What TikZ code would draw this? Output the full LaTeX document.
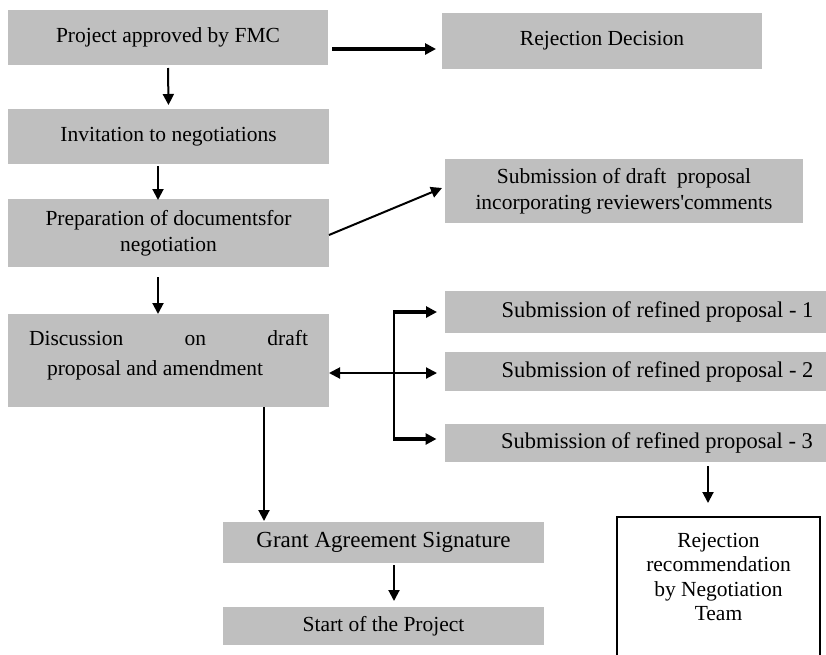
\documentclass[tikz,border=0pt]{standalone}
\usepackage{fontspec}
\setmainfont{Liberation Serif}
\usetikzlibrary{arrows.meta,calc}
\definecolor{boxgray}{RGB}{191,191,191}

\begin{document}
\begin{tikzpicture}[x=1pt, y=-1pt,
  box/.style={fill=boxgray, inner sep=4pt, outer sep=0pt, font=\fontsize{21.5}{26}\selectfont, align=center},
  arr/.style={-{Triangle[length=11pt,width=11pt]}, line width=2pt},
  warr/.style={-{Triangle[length=11pt,width=11pt]}, line width=3.6pt}]

    \useasboundingbox (0,0) rectangle (826,654);
    \clip (0,0) rectangle (826,654);

    \node[box, minimum width=320, minimum height=55] (fmc)   at (168,37.5)    {Project approved by FMC};
    \node[box, minimum width=320, minimum height=56] (rej)   at (602,41)      {Rejection Decision};
    \node[box, minimum width=321, minimum height=55] (inv)   at (168.5,136.5) {Invitation to negotiations};
    \node[box, minimum width=321, minimum height=68] (prep)  at (168.5,233)   {Preparation of documentsfor\\negotiation};
    \node[box, minimum width=358, minimum height=64] (draft) at (624,191)     {Submission of draft~ proposal\\incorporating reviewers\textquotesingle comments};
    \node[box, minimum width=321, minimum height=93, text height=44pt, text depth=15pt, align=left,
          font=\fontsize{21.5}{30}\selectfont] (disc) at (168.5,360.5)
        {\makebox[279pt]{Discussion\hfill on\hfill draft}\\\hspace*{18pt}proposal and amendment};

    \node[box, minimum width=425, minimum height=42, font=\fontsize{22.5}{26}\selectfont] (ref1) at (657.5,312)   {Submission of refined proposal - 1};
    \node[box, minimum width=425, minimum height=39, font=\fontsize{22.5}{26}\selectfont] (ref2) at (657.5,371.5) {Submission of refined proposal - 2};
    \node[box, minimum width=425, minimum height=38, font=\fontsize{22.5}{26}\selectfont] (ref3) at (657,443)     {Submission of refined proposal - 3};

    \node[box, minimum width=321, minimum height=41, font=\fontsize{23}{26}\selectfont] (grant) at (383.5,542.5) {Grant Agreement Signature};
    \node[box, minimum width=321, minimum height=38] (start) at (383.5,626)   {Start of the Project};

    \node[draw, line width=2pt, minimum width=203, minimum height=150, inner sep=4pt,
          text height=86pt, text depth=29pt, align=center, font=\fontsize{21.5}{24.5}\selectfont] (reco) at (718.5,592)
        {Rejection\\recommendation\\by Negotiation\\Team};

    % main line
    \draw[warr] ($(fmc.east)+(4,11.5)$) -- ($(rej.west)+(-6,8)$);
    \draw[arr] ($(fmc.south)+(0,3)$) -- ($(inv.north)+(0,-4)$);
    \draw[arr] ($(inv.south)+(-10.5,2)$) -- ($(prep.north)+(-10.5,1)$);
    \draw[arr] ($(prep.east)+(0,2)$) -- ($(draft.west)+(-3,-3)$);
    \draw[arr] ($(prep.south)+(-10.5,10)$) -- ($(disc.north)+(-10.5,0)$);

    % refined proposals
    \coordinate (brk) at (394,373);
    \draw[arr, {Triangle[length=11pt,width=11pt]}-{Triangle[length=11pt,width=11pt]}] ($(disc.east)+(0,12.5)$) -- ($(ref2.west)+(-8,1.5)$);
    \draw[line width=2pt] ($(brk |- ref1.west)+(0,-2)$) -- ($(brk |- ref3.west)+(0,-2)$);
    \draw[warr] ($(brk |- ref1.west)+(-1,0)$) -- ($(ref1.west)+(-8,0)$);
    \draw[warr] ($(brk |- ref3.west)+(-1,-4)$) -- ($(ref3.west)+(-8,-4)$);

    \draw[arr] ($(disc.south)+(95.5,0)$) -- ($(grant.north)+(-119.5,-1)$);
    \draw[arr] ($(grant.south)+(10.5,2)$) -- ($(start.north)+(10.5,-6)$);
    \draw[arr] ($(ref3.south)+(51,4)$) -- ($(reco.north)+(-10.5,-13)$);

\end{tikzpicture}
\end{document}
